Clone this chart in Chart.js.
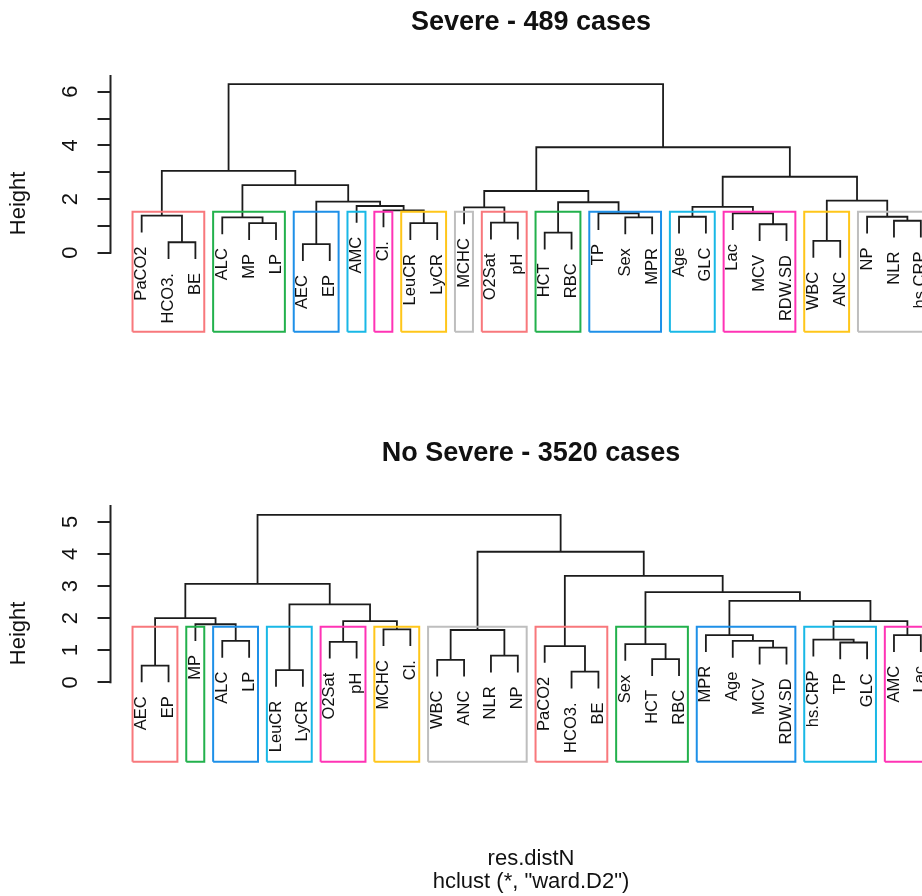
<!DOCTYPE html>
<html><head><meta charset="utf-8">
<script src="https://cdn.jsdelivr.net/npm/chart.js@4.4.0/dist/chart.umd.min.js"></script>
<style>
html,body{margin:0;padding:0;background:#fff;}
body{width:922px;height:896px;overflow:hidden;position:relative;font-family:"Liberation Sans",Arial,sans-serif;color:#111;}
.wrap{position:absolute;left:0;width:1062px;height:448px;}
canvas{display:block;}
.title{position:absolute;left:0;width:1062px;text-align:center;font-weight:bold;font-size:27px;line-height:27px;white-space:nowrap;}
.sub{position:absolute;left:0;width:1062px;text-align:center;font-size:22px;line-height:22px;white-space:nowrap;}
</style></head>
<body>
<div class="wrap" style="top:0"><canvas id="c1" width="1062" height="448"></canvas></div>
<div class="wrap" style="top:448px"><canvas id="c2" width="1062" height="448"></canvas></div>
<div class="title" style="top:8px">Severe - 489 cases</div>
<div class="title" style="top:439px">No Severe - 3520 cases</div>
<div class="sub" style="top:847px">res.distN</div>
<div class="sub" style="top:870px">hclust (*, "ward.D2")</div>
<script>
// ---------- DATA ----------
// Leaves in plotting order; merges R-style (negative = leaf position, positive = earlier merge row)
const severeLeaves = ["PaCO2","HCO3.","BE","ALC","MP","LP","AEC","EP","AMC","Cl.","LeuCR","LyCR","MCHC","O2Sat","pH","HCT","RBC","TP","Sex","MPR","Age","GLC","Lac","MCV","RDW.SD","WBC","ANC","NP","NLR","hs.CRP"];
const severeMerges = [[-2,-3],[-1,1],[-5,-6],[-4,3],[-7,-8],[-11,-12],[-10,6],[-9,7],[5,8],[4,9],[2,10],
  [-14,-15],[-13,12],[-16,-17],[-19,-20],[-18,15],[14,16],[13,17],[-21,-22],[-24,-25],[-23,20],[19,21],
  [-26,-27],[-29,-30],[-28,24],[23,25],[22,26],[18,27],[11,28]];
const severeHeights = [0.39,1.38,1.10,1.32,0.32,1.10,1.58,1.74,1.90,2.52,3.05,
  1.12,1.69,0.75,1.32,1.47,1.88,2.30,1.34,1.06,1.47,1.71,
  0.44,1.19,1.34,1.94,2.83,3.93,6.28];
const severeClusterCount = 14;
const severeTicks = [0,1,2,3,4,5,6];
const severeTickLabels = ["0","","2","","4","","6"];

const mildLeaves = ["AEC","EP","MP","ALC","LP","LeuCR","LyCR","O2Sat","pH","MCHC","Cl.","WBC","ANC","NLR","NP","PaCO2","HCO3.","BE","Sex","HCT","RBC","MPR","Age","MCV","RDW.SD","hs.CRP","TP","GLC","AMC","Lac"];
const mildMerges = [[-1,-2],[-4,-5],[-3,2],[1,3],[-6,-7],[-8,-9],[-10,-11],[6,7],[5,8],[4,9],
  [-12,-13],[-14,-15],[11,12],[-17,-18],[-16,14],[-20,-21],[-19,16],[-24,-25],[-23,18],[-22,19],
  [-27,-28],[-26,21],[-29,-30],[22,23],[20,24],[17,25],[15,26],[13,27],[10,28]];
const mildHeights = [0.52,1.29,1.81,2.00,0.38,1.26,1.65,1.91,2.43,3.07,
  0.70,0.83,1.63,0.33,1.13,0.72,1.19,1.08,1.29,1.47,
  1.24,1.33,1.47,1.91,2.54,2.81,3.32,4.07,5.22];
const mildClusterCount = 12;
const mildTicks = [0,1,2,3,4,5];
const mildTickLabels = ["0","1","2","3","4","5"];

const boxColors = ["#F8787C","#22B14C","#1E90E8","#19B8E6","#FF33B5","#FFC61A","#BEBEBE"];

// ---------- HELPERS ----------
Chart.defaults.font.family = '"Liberation Sans", Arial, sans-serif';
Chart.defaults.color = '#111';

function buildTree(leaves, merges, heights) {
  const hang = 0.1 * Math.max(...heights);
  const nodeX = [];
  const leafEnd = new Array(leaves.length).fill(0);
  const segments = [];
  merges.forEach((m, i) => {
    const h = heights[i];
    const pts = m.map(ref => {
      if (ref < 0) { leafEnd[-ref - 1] = h - hang; return {x: -ref, y: h - hang}; }
      return {x: nodeX[ref - 1], y: heights[ref - 1]};
    });
    segments.push([{x: pts[0].x, y: pts[0].y}, {x: pts[0].x, y: h}, {x: pts[1].x, y: h}, {x: pts[1].x, y: pts[1].y}]);
    nodeX[i] = (pts[0].x + pts[1].x) / 2;
  });
  return {segments, leafEnd};
}

function cutClusters(merges, heights, k) {
  const sorted = [...heights].sort((a, b) => b - a);
  const cut = (sorted[k - 2] + sorted[k - 1]) / 2;
  const range = ref => {
    if (ref < 0) return [-ref, -ref];
    const m = merges[ref - 1], a = range(m[0]), b = range(m[1]);
    return [Math.min(a[0], b[0]), Math.max(a[1], b[1])];
  };
  const out = [];
  const walk = ref => {
    if (ref < 0 || heights[ref - 1] < cut) { out.push(range(ref)); return; }
    walk(merges[ref - 1][0]); walk(merges[ref - 1][1]);
  };
  walk(merges.length);
  out.sort((a, b) => a[0] - b[0]);
  return {cut, ranges: out};
}

const leafLabelPlugin = {
  id: 'leafLabels',
  beforeDatasetsDraw(chart, args, opts) {
    const {ctx, scales: {x, y}} = chart;
    ctx.save();
    ctx.font = '16.5px "Liberation Sans", Arial, sans-serif';
    ctx.fillStyle = '#111';
    ctx.textAlign = 'right';
    ctx.textBaseline = 'middle';
    opts.leaves.forEach((name, i) => {
      const px = x.getPixelForValue(i + 1);
      const py = y.getPixelForValue(opts.ends[i]) + 14;
      ctx.save(); ctx.translate(px, py); ctx.rotate(-Math.PI / 2); ctx.fillText(name, 0, 0); ctx.restore();
    });
    ctx.restore();
  }
};
const axisLinePlugin = {
  id: 'axisLine',
  afterDraw(chart) {
    const {ctx, chartArea, scales: {y}} = chart;
    ctx.save();
    ctx.strokeStyle = '#222'; ctx.lineWidth = 2;
    ctx.beginPath();
    ctx.moveTo(chartArea.left, y.getPixelForValue(0) + 1);
    ctx.lineTo(chartArea.left, chartArea.top);
    ctx.stroke();
    ctx.restore();
  }
};

function makeDendro(id, leaves, merges, heights, k, ticks, tickLabels, yMin, yMax, padTop, padBottom) {
  const tree = buildTree(leaves, merges, heights);
  const cl = cutClusters(merges, heights, k);
  const datasets = [];
  tree.segments.forEach(seg => datasets.push({
    data: seg, borderColor: '#1c1c1c', borderWidth: 1.8, pointRadius: 0, tension: 0, fill: false, order: 2, clip: false
  }));
  cl.ranges.forEach((r, i) => {
    const l = r[0] - 0.34, rr = r[1] + 0.33;
    datasets.push({
      data: [{x: l, y: yMin}, {x: l, y: cl.cut}, {x: rr, y: cl.cut}, {x: rr, y: yMin}, {x: l, y: yMin}],
      borderColor: boxColors[i % boxColors.length], borderWidth: 2, pointRadius: 0, tension: 0, fill: false, order: 1, clip: false
    });
  });
  return new Chart(document.getElementById(id), {
    type: 'line',
    data: {datasets},
    plugins: [leafLabelPlugin, axisLinePlugin],
    options: {
      responsive: false, animation: false, events: [],
      layout: {padding: {top: padTop, bottom: padBottom, left: 0, right: 110}},
      plugins: {legend: {display: false}, tooltip: {enabled: false}, leafLabels: {leaves, ends: tree.leafEnd}},
      scales: {
        x: {type: 'linear', min: -0.16, max: 31.16, display: false},
        y: {
          type: 'linear', position: 'left', min: yMin, max: yMax,
          afterBuildTicks: s => { s.ticks = ticks.map(v => ({value: v})); },
          afterFit: s => { s.width = 110.5; },
          border: {display: false},
          grid: {drawOnChartArea: false, drawTicks: true, tickLength: 13, color: '#222', lineWidth: 2},
          ticks: {
            autoSkip: false, minRotation: 90, maxRotation: 90, crossAlign: 'center', padding: 20,
            font: {size: 22}, color: '#111',
            callback: (v, i) => tickLabels[i]
          },
          title: {display: true, text: 'Height', font: {size: 22}, color: '#111', padding: {top: 6, bottom: 0}}
        }
      }
    }
  });
}

makeDendro('c1', severeLeaves, severeMerges, severeHeights, severeClusterCount, severeTicks, severeTickLabels, -2.944, 6.622, 75, 116.3);
makeDendro('c2', mildLeaves, mildMerges, mildHeights, mildClusterCount, mildTicks, mildTickLabels, -2.476, 5.528, 57, 134.3);
</script>
</body></html>
